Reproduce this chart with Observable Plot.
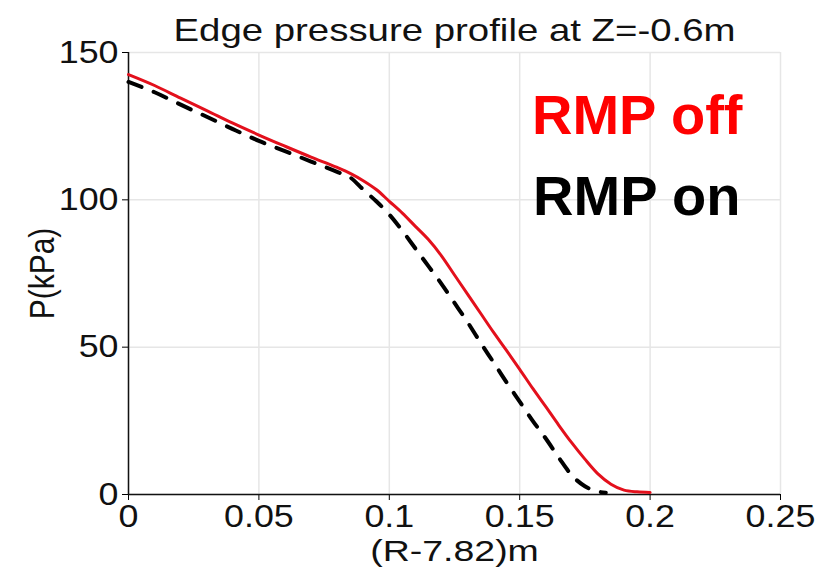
<!DOCTYPE html>
<html><head><meta charset="utf-8">
<script src="https://cdn.jsdelivr.net/npm/d3@7"></script>
<script src="https://cdn.jsdelivr.net/npm/@observablehq/plot@0.6"></script>
<style>body{margin:0;background:#fff}</style>
</head><body><div id="chart"></div>
<script>
// RMP off (red solid)
const xOff = [0,0.01,0.02,0.03,0.04,0.05,0.06,0.07,0.08,0.085,0.09,0.095,0.1,0.105,0.11,0.115,0.12,0.125,0.13,0.135,0.14,0.145,0.15,0.155,0.16,0.165,0.17,0.175,0.18,0.185,0.19,0.195,0.2];
const pOff = [142.5,138.8,134.5,130.3,126,122,118.2,114.5,111,109,106.5,103.5,99.5,95.5,91,86.5,81,74.5,68,61.5,55,48.8,42.5,36,29.8,23.5,17.5,12,7,3.5,1.5,0.9,0.7];
// RMP on (black dashed)
const xOn = [0,0.01,0.02,0.03,0.04,0.05,0.06,0.07,0.08,0.085,0.09,0.095,0.1,0.105,0.11,0.115,0.12,0.125,0.13,0.135,0.14,0.145,0.15,0.155,0.16,0.165,0.17,0.175,0.18,0.183];
const pOn = [140,136.5,132.3,128.2,124,120,116.5,113,109.5,107.6,103.5,99.5,95,89.5,83.5,77.5,71.5,65,58.5,51.5,44.8,38,31.5,25,19,12.5,6.5,2.8,1.0,0.6];
const xTicks = [0,0.05,0.1,0.15,0.2,0.25];
const yTicks = [0,50,100,150];
const titleText = "Edge pressure profile at Z=-0.6m";
const xLabel = "(R-7.82)m";
const yLabel = "P(kPa)";
const legendLabels = ["RMP off","RMP on"];
const legendColors = ["#ff0000","#000000"];

const off = xOff.map((x,i)=>({x, p:pOff[i]}));
const on = xOn.map((x,i)=>({x, p:pOn[i]}));
const fmt = d => String(+d.toFixed(2));

const chart = Plot.plot({
  width: 819, height: 573,
  marginLeft: 128, marginRight: 39, marginTop: 52, marginBottom: 79,
  style: {fontFamily: "'Liberation Sans', Arial, sans-serif", background: "#fff", color: "#000"},
  x: {domain: [0, 0.25]},
  y: {domain: [0, 150]},
  marks: [
    Plot.gridX(xTicks, {stroke: "#e6e6e6", strokeOpacity: 1, strokeWidth: 1.5}),
    Plot.gridY(yTicks, {stroke: "#e6e6e6", strokeOpacity: 1, strokeWidth: 1.5}),
    Plot.axisX(xTicks, {tickFormat: fmt, fontSize: 32, tickSize: 6, tickPadding: 4, label: null, stroke: "#000", fill: "#111"}),
    Plot.axisY(yTicks, {tickFormat: fmt, fontSize: 32, tickSize: 6, tickPadding: 4, label: null, stroke: "#000", fill: "#111"}),
    Plot.ruleX([0], {stroke: "#111", strokeWidth: 1.5}),
    Plot.ruleY([0], {stroke: "#111", strokeWidth: 1.5}),
    Plot.line(on, {x: "x", y: "p", stroke: "#000", strokeWidth: 4, strokeDasharray: "14,13", curve: "monotone-x"}),
    Plot.line(off, {x: "x", y: "p", stroke: "#e3101c", strokeWidth: 3, curve: "monotone-x"}),
    Plot.text([titleText], {frameAnchor: "top", dy: -22, lineAnchor: "middle", textAnchor: "middle", fontSize: 32, fill: "#111"}),
    Plot.text([xLabel], {frameAnchor: "bottom", dy: 57, lineAnchor: "middle", textAnchor: "middle", fontSize: 30, fill: "#111"}),
    Plot.text([yLabel], {frameAnchor: "left", dx: -86, rotate: -90, lineAnchor: "middle", textAnchor: "middle", fontSize: 30, fill: "#111"}),
    Plot.text([legendLabels[0]], {frameAnchor: "top-right", dx: -38, dy: 42, textAnchor: "end", lineAnchor: "top", fontSize: 56, fontWeight: "bold", fill: legendColors[0]}),
    Plot.text([legendLabels[1]], {frameAnchor: "top-right", dx: -40, dy: 123, textAnchor: "end", lineAnchor: "top", fontSize: 56, fontWeight: "bold", fill: legendColors[1]})
  ]
});
// the original figure's text is horizontally stretched; reproduce that (not the legend)
chart.querySelectorAll("text").forEach(t => {
  if (legendLabels.includes(t.textContent)) return;
  const tr = t.getAttribute("transform") || "";
  const rotated = /rotate/.test(tr);
  const isTick = !!t.closest('[aria-label$="tick label"]');
  const sx = t.textContent === xLabel ? 1.25 : isTick ? 1.12 : 1.2;
  t.setAttribute("transform", tr + (rotated ? " scale(1,1.15)" : ` scale(${sx},1)`));
});
document.getElementById("chart").appendChild(chart);
</script>
</body></html>
